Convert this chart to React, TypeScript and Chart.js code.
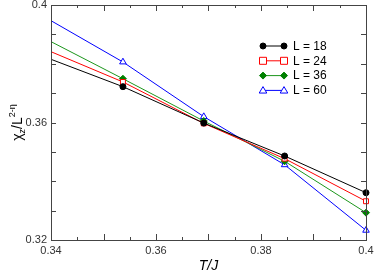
import React, { useEffect, useRef } from 'react';
import { Chart, registerables } from 'chart.js';
Chart.register(...registerables);

const temps = [0.3384, 0.3537, 0.3691, 0.3845, 0.4];
const chiL18 = [0.3826, 0.3722, 0.3598, 0.3486, 0.3361];
const chiL24 = [0.3853, 0.3738, 0.3597, 0.3477, 0.3332];
const chiL36 = [0.389, 0.3749, 0.3605, 0.3468, 0.3293];
const chiL60 = [0.3963, 0.3806, 0.362, 0.3456, 0.3233];
const seriesLabels = ['L = 18', 'L = 24', 'L = 36', 'L = 60'];
const xTickValues = [0.34, 0.36, 0.38, 0.4];
const yTickValues = [0.32, 0.36, 0.4];

const FONT = '"Liberation Sans", Arial, sans-serif';

type Sty = { line: string; marker: string; fill: string; style: string; r: number };
const styles: Sty[] = [
  { line: '#000000', marker: '#000000', fill: '#000000', style: 'circle', r: 3 },
  { line: '#ff0000', marker: '#ff0000', fill: '#ffffff', style: 'rect', r: 3.5 },
  { line: '#1c961c', marker: '#008000', fill: '#008000', style: 'rectRot', r: 3.5 },
  { line: '#0000ff', marker: '#0000ff', fill: '#ffffff', style: 'triangle', r: 3.8 },
];

function drawMarker(ctx: CanvasRenderingContext2D, s: Sty, x: number, y: number) {
  ctx.save();
  ctx.strokeStyle = s.marker;
  ctx.fillStyle = s.fill;
  ctx.lineWidth = 1;
  ctx.beginPath();
  if (s.style === 'circle') {
    ctx.arc(x, y, s.r, 0, Math.PI * 2);
  } else if (s.style === 'rect') {
    ctx.rect(x - s.r, y - s.r, s.r * 2, s.r * 2);
  } else if (s.style === 'rectRot') {
    ctx.moveTo(x, y - s.r);
    ctx.lineTo(x + s.r, y);
    ctx.lineTo(x, y + s.r);
    ctx.lineTo(x - s.r, y);
    ctx.closePath();
  } else {
    ctx.moveTo(x, y - s.r);
    ctx.lineTo(x + s.r, y + s.r * 0.7);
    ctx.lineTo(x - s.r, y + s.r * 0.7);
    ctx.closePath();
  }
  ctx.fill();
  ctx.stroke();
  ctx.restore();
}

const decorPlugin = {
  id: 'decor',
  afterDraw(chart: any) {
    const ctx: CanvasRenderingContext2D = chart.ctx;
    const { left, right, top, bottom } = chart.chartArea;
    const xs = chart.scales.x;
    const ys = chart.scales.y;
    ctx.save();
    ctx.strokeStyle = '#444';
    ctx.lineWidth = 1;
    ctx.strokeRect(Math.round(left) + 0.5, Math.round(top) + 0.5, Math.round(right - left), Math.round(bottom - top));
    // x ticks
    for (let i = 0; i <= 12; i++) {
      const v = 0.34 + i * 0.005;
      const px = Math.round(xs.getPixelForValue(v)) + 0.5;
      const len = i % 2 === 0 ? 6 : 3;
      ctx.beginPath();
      ctx.moveTo(px, bottom);
      ctx.lineTo(px, bottom - len);
      ctx.moveTo(px, top);
      ctx.lineTo(px, top + len);
      ctx.stroke();
    }
    for (let i = 0; i <= 8; i++) {
      const v = 0.32 + i * 0.01;
      const py = Math.round(ys.getPixelForValue(v)) + 0.5;
      const len = 5;
      ctx.beginPath();
      ctx.moveTo(left, py);
      ctx.lineTo(left + len, py);
      ctx.moveTo(right, py);
      ctx.lineTo(right - len, py);
      ctx.stroke();
    }
    // legend
    const lx0 = 263, lx1 = 284, tx = 293;
    seriesLabels.forEach((lab, i) => {
      const y = 46 + i * 14.8;
      const s = styles[i];
      ctx.strokeStyle = s.line;
      ctx.lineWidth = 1;
      ctx.beginPath();
      ctx.moveTo(lx0, y);
      ctx.lineTo(lx1, y);
      ctx.stroke();
      drawMarker(ctx, s, lx0, y);
      drawMarker(ctx, s, lx1, y);
      ctx.fillStyle = '#000';
      ctx.font = '12px ' + FONT;
      ctx.textBaseline = 'middle';
      ctx.textAlign = 'left';
      ctx.fillText(lab, tx, y + 0.5);
    });
    // x title
    ctx.fillStyle = '#000';
    ctx.font = 'italic 14px ' + FONT;
    ctx.textAlign = 'center';
    ctx.textBaseline = 'middle';
    ctx.fillText('T/J', (left + right) / 2, 266);
    // y title
    ctx.save();
    ctx.translate(17, (top + bottom) / 2);
    ctx.rotate(-Math.PI / 2);
    ctx.textAlign = 'left';
    ctx.textBaseline = 'alphabetic';
    const parts: [string, string, number][] = [
      ['χ', '14px ' + FONT, 0],
      ['z', '9px ' + FONT, 3],
      ['/L', '14px ' + FONT, 0],
      ['2-η', '9px ' + FONT, -7],
    ];
    let total = 0;
    parts.forEach(([t, f]) => { ctx.font = f; total += ctx.measureText(t).width; });
    let cx = -total / 2;
    parts.forEach(([t, f, dy]) => {
      ctx.font = f;
      ctx.fillText(t, cx, 5 + dy);
      cx += ctx.measureText(t).width;
    });
    ctx.restore();
    ctx.restore();
  },
};

const seriesValues = [chiL18, chiL24, chiL36, chiL60];

export default function App() {
  const ref = useRef<HTMLCanvasElement>(null);
  useEffect(() => {
    document.body.style.margin = '0';
    const canvas = ref.current!;
    const datasets = seriesValues.map((vals, i) => ({
      label: seriesLabels[i],
      data: temps.map((t, k) => ({ x: t, y: vals[k] })),
      showLine: true,
      borderColor: styles[i].line,
      borderWidth: 1,
      pointStyle: styles[i].style,
      pointRadius: styles[i].r,
      pointBorderColor: styles[i].marker,
      pointBackgroundColor: styles[i].fill,
      pointBorderWidth: 1,
      clip: { left: 0, top: 6, right: 6, bottom: 6 },
    }));
    const chart = new Chart(canvas, {
      type: 'scatter',
      data: { datasets },
      options: {
        animation: false,
        responsive: true,
        maintainAspectRatio: false,
        layout: { padding: { top: 5, right: 8, left: 0, bottom: 0 } },
        plugins: { legend: { display: false }, tooltip: { enabled: false } },
        scales: {
          x: {
            type: 'linear',
            min: 0.34,
            max: 0.4,
            afterBuildTicks: (s: any) => { s.ticks = xTickValues.map((v) => ({ value: v })); },
            afterFit: (s: any) => { s.height = 33; s.paddingLeft = 0; s.paddingRight = 0; },
            grid: { display: false, drawTicks: false },
            border: { display: false },
            ticks: {
              padding: 4,
              color: '#333',
              font: { size: 11, family: FONT },
              maxRotation: 0,
              callback: (v: any) => String(+Number(v).toFixed(3)),
            },
          },
          y: {
            type: 'linear',
            min: 0.32,
            max: 0.4,
            afterBuildTicks: (s: any) => { s.ticks = yTickValues.map((v) => ({ value: v })); },
            afterFit: (s: any) => { s.width = 51; s.paddingTop = 0; s.paddingBottom = 0; },
            grid: { display: false, drawTicks: false },
            border: { display: false },
            ticks: {
              padding: 4,
              color: '#333',
              font: { size: 11, family: FONT },
              callback: (v: any) => String(+Number(v).toFixed(3)),
            },
          },
        },
      },
      plugins: [decorPlugin],
    } as any);
    return () => chart.destroy();
  }, []);
  return (
    <div style={{ width: 374, height: 273, position: 'relative' }}>
      <canvas ref={ref} />
    </div>
  );
}
